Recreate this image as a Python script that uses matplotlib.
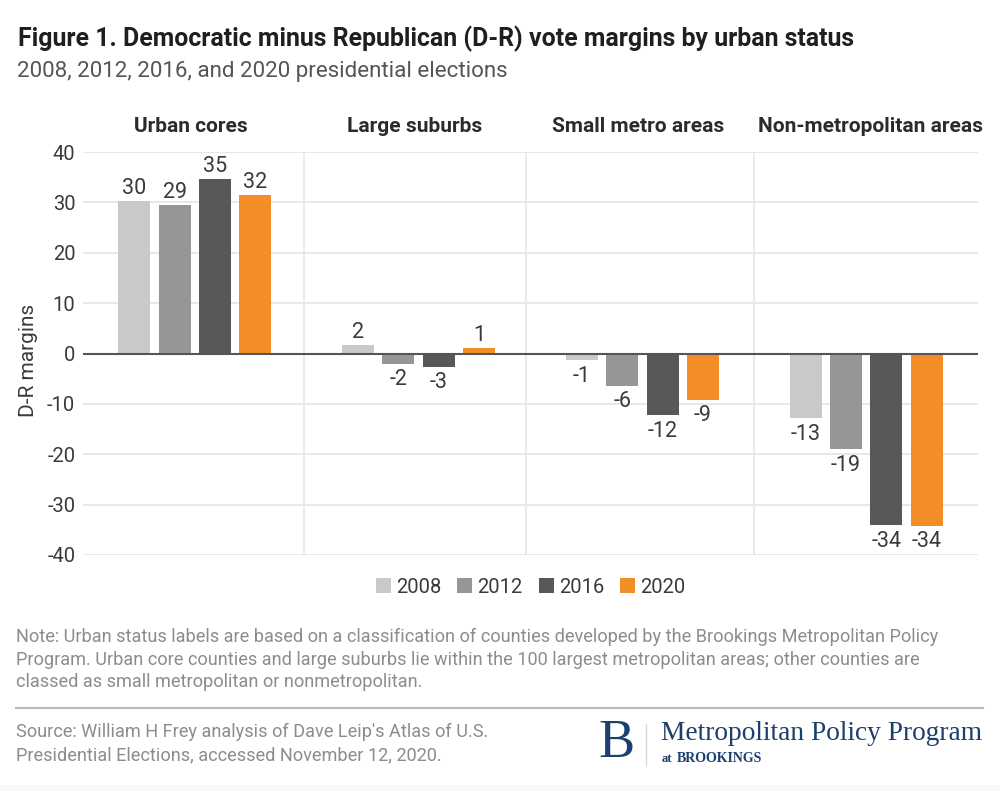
import numpy as np
import matplotlib
matplotlib.use('Agg')
import matplotlib.pyplot as plt

plt.rcParams['font.family'] = ['Roboto', 'DejaVu Sans']
plt.rcParams['axes.unicode_minus'] = False

groups = ['Urban cores', 'Large suburbs', 'Small metro areas', 'Non-metropolitan areas']
years = ['2008', '2012', '2016', '2020']
colors = ['#c9c9c9', '#969696', '#585858', '#f28e25']
v2008 = [30.2, 1.6, -1.3, -12.8]
v2012 = [29.4, -2.0, -6.4, -19.0]
v2016 = [34.6, -2.6, -12.2, -34.1]
v2020 = [31.5, 1.0, -9.2, -34.2]
series = [v2008, v2012, v2016, v2020]
labels = [['30', '2', '-1', '-13'], ['29', '-2', '-6', '-19'],
          ['35', '-3', '-12', '-34'], ['32', '1', '-9', '-34']]
yticks = [-40, -30, -20, -10, 0, 10, 20, 30, 40]

W, H = 1000, 791
fig = plt.figure(figsize=(W / 100, H / 100), dpi=100, facecolor='white')
dark = '#3a3a3a'
grey = '#8c8c8c'

def px(x, y):
    return x / W, 1 - y / H

# axes placed by pixel box: x 83-978, y 152-555
ax = fig.add_axes([83 / W, 1 - 555 / H, 895 / W, 403 / H])
ax.set_xlim(-0.5, 3.5)
ax.set_ylim(-40, 40)
for s in ax.spines.values():
    s.set_visible(False)
ax.set_yticks(yticks)
ax.set_xticks([])
ax.tick_params(axis='y', length=0, labelsize=14.5, labelcolor=dark, pad=5.5)
ax.grid(axis='y', color='#e8e8e8', lw=1.4)
ax.set_axisbelow(True)
for d in [0.488, 1.48, 2.5]:
    ax.axvline(d, color='#e8e8e8', lw=1.2, zorder=0)

width = 32 / 223.75
step = 40.4 / 223.75
x = np.arange(4)
for i, vals in enumerate(series):
    pos = x + (i - 1.5) * step
    ax.bar(pos, vals, width, color=colors[i], zorder=2, label=years[i])
    for p, v, t in zip(pos, vals, labels[i]):
        ax.annotate(t, (p, v), xytext=(0, 1.5 if v > 0 else -4), textcoords='offset points',
                    ha='center', va='bottom' if v > 0 else 'top', fontsize=15.5, color=dark)
ax.axhline(0, color='#555555', lw=1.5, zorder=3)

for g, c in zip(groups, [191, 415, 638, 870]):
    fig.text(*px(c, 127), g, ha='center', va='center', fontsize=15, fontweight='bold', color='#2b2b2b')

fig.text(*px(28, 360), 'D-R margins', fontsize=15, color=dark, rotation=90, ha='center', va='center')

leg = ax.legend(loc='center', bbox_to_anchor=(0.5, -0.08), ncol=4, frameon=False, fontsize=14.5,
                handlelength=0.75, handleheight=0.75, handletextpad=0.25, columnspacing=0.8,
                labelcolor=dark)

fig.text(*px(18, 39), 'Figure 1. Democratic minus Republican (D-R) vote margins by urban status',
         fontsize=17.9, fontweight='bold', color='#1f1f1f', va='center')
fig.text(*px(17, 72), '2008, 2012, 2016, and 2020 presidential elections',
         fontsize=16.1, color='#555555', va='center')

note = ['Note: Urban status labels are based on a classification of counties developed by the Brookings Metropolitan Policy',
        'Program. Urban core counties and large suburbs lie within the 100 largest metropolitan areas; other counties are',
        'classed as small metropolitan or nonmetropolitan.']
for line, y in zip(note, [637, 660, 682]):
    fig.text(*px(16, y), line, fontsize=13.1, color=grey, va='center')
source = ["Source: William H Frey analysis of Dave Leip's Atlas of U.S.",
          'Presidential Elections, accessed November 12, 2020.']
for line, y in zip(source, [732, 755]):
    fig.text(*px(16, y), line, fontsize=13.1, color=grey, va='center')

fig.add_artist(plt.Line2D([16 / W, 983 / W], [1 - 708 / H] * 2, color='#b5baba', lw=1.5))
fig.add_artist(plt.Line2D([646 / W, 646 / W], [1 - 766 / H, 1 - 724 / H], color='#d5dbe3', lw=1))

navy = '#1d3f6e'
fig.text(*px(617, 744), 'B', fontsize=39, family='Liberation Serif', color=navy, ha='center', va='center')
fig.text(*px(661, 734), 'Metropolitan Policy Program', fontsize=19.7, family='Liberation Serif', color=navy, va='center')
fig.text(*px(662, 759), 'at', fontsize=9, family='Liberation Serif', fontweight='bold', color=navy, va='center')
fig.text(*px(677, 759), 'BROOKINGS', fontsize=10, family='Liberation Serif', fontweight='bold', color=navy, va='center')

fig.patches.append(plt.Rectangle((0, 0), 1, 6 / H, transform=fig.transFigure, color='#f8f8f8', zorder=-1))

fig.savefig('out.png', dpi=100)
